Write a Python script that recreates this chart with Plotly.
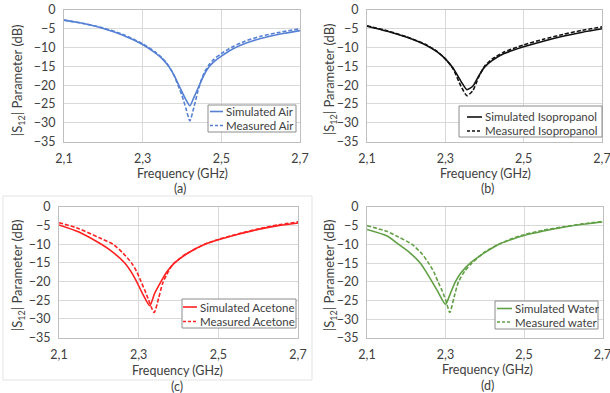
import plotly.graph_objects as go

# ---------------- data ----------------
air_sim_f = [2.10, 2.15, 2.20, 2.25, 2.30, 2.33, 2.35, 2.36, 2.37, 2.38, 2.39, 2.40, 2.41, 2.42,
             2.43, 2.44, 2.45, 2.46, 2.47, 2.48, 2.50, 2.53, 2.56, 2.60, 2.65, 2.70]
air_sim_db = [-2.7, -3.6, -4.9, -6.7, -9.2, -11.3, -13.0, -14.2, -15.6, -17.4, -19.6, -21.8, -23.9, -25.5,
              -23.3, -21.0, -18.6, -16.5, -15.0, -13.9, -12.3, -10.3, -8.9, -7.6, -6.4, -5.5]
air_meas_f = [2.10, 2.15, 2.20, 2.25, 2.30, 2.33, 2.35, 2.36, 2.37, 2.38, 2.39, 2.40, 2.41, 2.42,
              2.43, 2.44, 2.45, 2.46, 2.47, 2.48, 2.50, 2.53, 2.56, 2.60, 2.65, 2.70]
air_meas_db = [-2.7, -3.6, -4.8, -6.5, -9.0, -11.0, -12.8, -14.0, -15.5, -17.5, -20.0, -22.8, -26.2, -29.5,
               -26.0, -21.8, -18.4, -16.0, -14.4, -13.2, -11.6, -9.7, -8.3, -7.0, -5.9, -5.0]

iso_sim_f = [2.10, 2.15, 2.20, 2.25, 2.28, 2.30, 2.32, 2.34, 2.355, 2.37, 2.385, 2.40,
             2.42, 2.45, 2.50, 2.55, 2.60, 2.65, 2.70]
iso_sim_db = [-4.3, -5.6, -7.2, -9.3, -11.2, -13.0, -15.5, -19.0, -21.2, -20.3, -17.6, -15.2,
              -13.4, -11.6, -9.8, -8.3, -7.0, -5.9, -5.0]
iso_meas_f = [2.10, 2.15, 2.20, 2.25, 2.28, 2.30, 2.32, 2.34, 2.355, 2.37, 2.385, 2.40,
              2.42, 2.45, 2.50, 2.55, 2.60, 2.65, 2.70]
iso_meas_db = [-4.2, -5.5, -7.1, -9.2, -11.1, -13.0, -15.7, -20.3, -22.8, -21.5, -17.9, -15.0,
               -13.0, -11.2, -9.3, -7.8, -6.5, -5.4, -4.5]

ace_sim_f = [2.10, 2.15, 2.20, 2.23, 2.265, 2.28, 2.295, 2.31, 2.328, 2.34, 2.356, 2.37,
             2.39, 2.42, 2.466, 2.50, 2.55, 2.60, 2.65, 2.70]
ace_sim_db = [-4.8, -6.7, -9.6, -11.7, -15.0, -17.2, -20.0, -23.3, -26.5, -23.2, -20.0, -17.5,
              -15.0, -12.6, -10.0, -8.8, -7.3, -6.0, -5.0, -4.3]
ace_meas_f = [2.10, 2.15, 2.20, 2.236, 2.26, 2.282, 2.295, 2.306, 2.318, 2.339, 2.35, 2.36,
              2.37, 2.385, 2.42, 2.466, 2.50, 2.55, 2.60, 2.65, 2.70]
ace_meas_db = [-4.2, -5.8, -8.2, -10.0, -12.3, -15.0, -17.3, -20.0, -23.0, -28.3, -24.5, -20.5,
               -18.2, -15.5, -12.5, -10.0, -8.7, -7.2, -5.9, -4.8, -4.0]

wat_sim_f = [2.10, 2.15, 2.181, 2.21, 2.236, 2.25, 2.266, 2.28, 2.30, 2.312, 2.325, 2.34,
             2.363, 2.40, 2.435, 2.47, 2.50, 2.55, 2.60, 2.65, 2.70]
wat_sim_db = [-6.0, -7.7, -10.0, -12.3, -15.0, -17.2, -20.0, -22.5, -26.0, -23.2, -20.0, -17.5,
              -15.0, -12.2, -10.0, -8.6, -7.6, -6.4, -5.4, -4.6, -4.0]
wat_meas_f = [2.10, 2.15, 2.18, 2.215, 2.24, 2.257, 2.27, 2.281, 2.292, 2.301, 2.311, 2.322,
              2.333, 2.35, 2.367, 2.40, 2.435, 2.47, 2.50, 2.55, 2.60, 2.65, 2.70]
wat_meas_db = [-5.0, -6.5, -8.0, -10.0, -12.5, -15.0, -17.3, -20.0, -22.5, -25.0, -28.2, -24.0,
               -20.0, -17.0, -15.0, -12.0, -10.0, -8.4, -7.4, -6.2, -5.3, -4.5, -3.9]

x_ticks = [2.1, 2.3, 2.5, 2.7]
x_ticklabels = ["2,1", "2,3", "2,5", "2,7"]
y_ticks = [0, -5, -10, -15, -20, -25, -30, -35]

panels = [
    dict(sim=(air_sim_f, air_sim_db), meas=(air_meas_f, air_meas_db), color="#5580d4",
         names=("Simulated Air", "Measured Air"), label="(a)"),
    dict(sim=(iso_sim_f, iso_sim_db), meas=(iso_meas_f, iso_meas_db), color="#111111",
         names=("Simulated Isopropanol", "Measured Isopropanol"), label="(b)"),
    dict(sim=(ace_sim_f, ace_sim_db), meas=(ace_meas_f, ace_meas_db), color="#ff2020",
         names=("Simulated Acetone", "Measured Acetone"), label="(c)"),
    dict(sim=(wat_sim_f, wat_sim_db), meas=(wat_meas_f, wat_meas_db), color="#62a046",
         names=("Simulated Water", "Measured water"), label="(d)"),
]

# ---------------- layout geometry (pixels -> paper) ----------------
W, H = 610, 393
def px(x):
    return x / W
def py(y):
    return 1 - y / H

# plot areas in pixels: (left, right, top, bottom)
areas = [(64, 300, 10, 141.5), (367, 602, 10, 141.5), (59, 298, 207, 337.5), (367, 602.5, 207, 338)]
# legend boxes: (left, right, top, bottom, row1 y, row2 y, swatch x0, swatch x1)
legend_boxes = [(208, 296, 105, 132, 111.5, 125.5, 210, 223),
                (459, 602, 106, 137, 117, 131, 467, 482),
                (182, 296, 299, 328, 307, 321.5, 183, 197),
                (495, 598, 301, 329, 308.5, 322, 497, 512)]
ytitle_pos = [(18, 80), (330, 79), (18, 275), (330, 275)]
xtitle_pos = [(182, 173.5), (485, 173.5), (177, 370), (487, 369)]
label_pos = [(180, 188), (487, 188.5), (177, 386), (487, 385)]

FONT = "Lato"
TXT = "#404040"

fig = go.Figure()
annotations = []
shapes = []
layout = {}
for i, p in enumerate(panels):
    n = "" if i == 0 else str(i + 1)
    xa, ya = "x" + n, "y" + n
    l, r, t, b = areas[i]
    fig.add_trace(go.Scatter(x=p["sim"][0], y=p["sim"][1], mode="lines", name=p["names"][0],
                             line=dict(color=p["color"], width=1.6, shape="spline", smoothing=0.6),
                             xaxis=xa, yaxis=ya, showlegend=False))
    fig.add_trace(go.Scatter(x=p["meas"][0], y=p["meas"][1], mode="lines", name=p["names"][1],
                             line=dict(color=p["color"], width=1.6, dash="4px,2px", shape="spline",
                                       smoothing=0.6),
                             xaxis=xa, yaxis=ya, showlegend=False))
    layout["xaxis" + n] = dict(domain=[px(l), px(r)], range=[2.1, 2.7], tickvals=x_ticks,
                               ticktext=x_ticklabels, showgrid=True, gridcolor="#d9d9d9",
                               gridwidth=1, zeroline=False, showline=True, linecolor="#bfbfbf",
                               mirror=True, anchor=ya, ticks="", ticklabelstandoff=5,
                               automargin=False, ticklabeloverflow="allow",
                               tickfont=dict(family=FONT, size=12.5, color=TXT))
    layout["yaxis" + n] = dict(domain=[py(b), py(t)], range=[-35, 0], tickvals=y_ticks,
                               showgrid=True, gridcolor="#d9d9d9", gridwidth=1, zeroline=False,
                               showline=True, linecolor="#bfbfbf", mirror=True, anchor=xa,
                               ticks="", ticklabelstandoff=5, automargin=False,
                               ticklabeloverflow="allow",
                               tickfont=dict(family=FONT, size=12.5, color=TXT))

    # custom compact legend (Excel style)
    bl, br, bt, bb, r1, r2, s0, s1 = legend_boxes[i]
    shapes.append(dict(type="rect", xref="paper", yref="paper", x0=px(bl), x1=px(br),
                       y0=py(bb), y1=py(bt), fillcolor="white",
                       line=dict(color="#8c8c8c", width=1), layer="above"))
    for ry, dash, name in [(r1, "solid", p["names"][0]), (r2, "3px,2px", p["names"][1])]:
        shapes.append(dict(type="line", xref="paper", yref="paper", x0=px(s0), x1=px(s1),
                           y0=py(ry), y1=py(ry), line=dict(color=p["color"], width=1.6, dash=dash),
                           layer="above"))
        annotations.append(dict(x=px(s1 + 1), y=py(ry), xref="paper", yref="paper", text=name,
                                showarrow=False, xanchor="left", yanchor="middle",
                                font=dict(family=FONT, size=11.5, color=TXT)))

    annotations.append(dict(x=px(ytitle_pos[i][0]), y=py(ytitle_pos[i][1]), xref="paper", yref="paper",
                            text="|S<sub>12</sub>| Parameter (dB)", textangle=-90, showarrow=False,
                            font=dict(family=FONT, size=13, color=TXT), xanchor="center",
                            yanchor="middle"))
    annotations.append(dict(x=px(xtitle_pos[i][0]), y=py(xtitle_pos[i][1]), xref="paper", yref="paper",
                            text="Frequency (GHz)", showarrow=False,
                            font=dict(family=FONT, size=12.5, color=TXT), xanchor="center",
                            yanchor="middle"))
    annotations.append(dict(x=px(label_pos[i][0]), y=py(label_pos[i][1]), xref="paper", yref="paper",
                            text=p["label"], showarrow=False,
                            font=dict(family=FONT, size=12.5, color=TXT), xanchor="center",
                            yanchor="middle"))

shapes.append(dict(type="rect", xref="paper", yref="paper", x0=px(3), x1=px(312), y0=py(380),
                   y1=py(196), line=dict(color="#e3e3e3", width=1), layer="below"))

fig.update_layout(**layout)
fig.update_layout(
    width=W, height=H, margin=dict(l=0, r=0, t=0, b=0, autoexpand=False),
    paper_bgcolor="white", plot_bgcolor="white", showlegend=False,
    annotations=annotations, shapes=shapes,
)
# remove the browser's default 8px body margin so the figure fills the window exactly
fig.write_html("out.html", config={"displayModeBar": False},
               post_script="document.body.style.margin='0';document.body.style.overflow='hidden';")
